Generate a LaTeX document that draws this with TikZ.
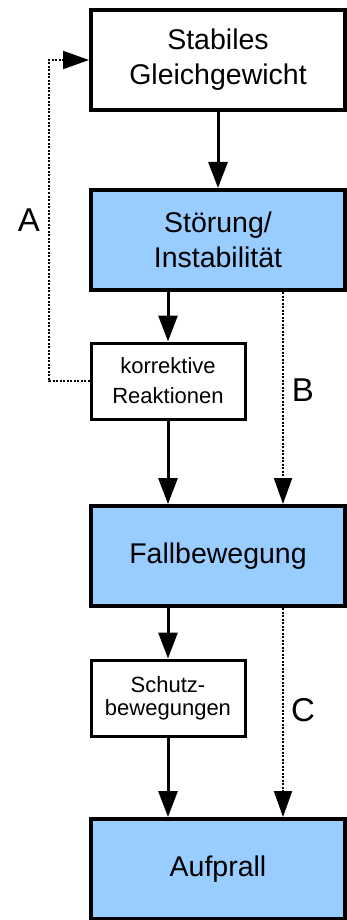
\documentclass[tikz,border=0pt]{standalone}
\usepackage{fontspec}
\setmainfont{Liberation Sans}
\usetikzlibrary{arrows.meta}

\definecolor{boxblue}{HTML}{99CCFF}

\begin{document}
\begin{tikzpicture}[x=1pt,y=-1pt,
        bigbox/.style={draw,line width=4pt,minimum width=254pt,minimum height=100pt,
            align=center,inner sep=0pt,font=\fontsize{28.5}{35}\selectfont},
        smallbox/.style={draw,line width=3pt,minimum width=154pt,minimum height=76pt,
            align=center,inner sep=0pt,font=\fontsize{22}{30}\selectfont},
        flow/.style={line width=3pt,-{Triangle[length=26pt,width=19pt]}},
        dotflow/.style={line width=2pt,dash pattern=on 2pt off 1.5pt,
            -{Triangle[length=26pt,width=18pt]}},
        letter/.style={font=\fontsize{33}{33}\selectfont}]
    \useasboundingbox (0,0) rectangle (347,920);

    \node (gleich) at (218,60) [bigbox] {Stabiles\\Gleichgewicht};
    \node (stoer) at (218,240) [bigbox,fill=boxblue] {Störung/\\Instabilität};
    \node (korr) at (168,381) [smallbox] {korrektive\\Reaktionen};
    \node (fall) at (218,556) [bigbox,fill=boxblue] {Fallbewegung};
    \node (schutz) at (168,698) [smallbox,font=\fontsize{22}{23}\selectfont] {Schutz-\\bewegungen};
    \node (aufprall) at (218,869) [bigbox,fill=boxblue] {Aufprall};

    \coordinate (turn) at (49,381);
    \coordinate (side) at (283,0);

    \draw [flow] (gleich) -- (stoer);
    \draw [flow] (stoer.south -| korr.north) -- (korr);
    \draw [flow] (korr) -- (fall.north -| korr.south);
    \draw [flow] (fall.south -| schutz.north) -- (schutz);
    \draw [flow] (schutz) -- (aufprall.north -| schutz.south);

    \draw [dotflow] (korr.west) -- (turn) |- (gleich.west);
    \draw [dotflow] (stoer.south -| side) -- (fall.north -| side);
    \draw [dotflow] (fall.south -| side) -- (aufprall.north -| side);

    \node (la) at (29,220) [letter] {A};
    \node (lb) at (303,390) [letter] {B};
    \node (lc) at (303,710) [letter] {C};
\end{tikzpicture}
\end{document}
